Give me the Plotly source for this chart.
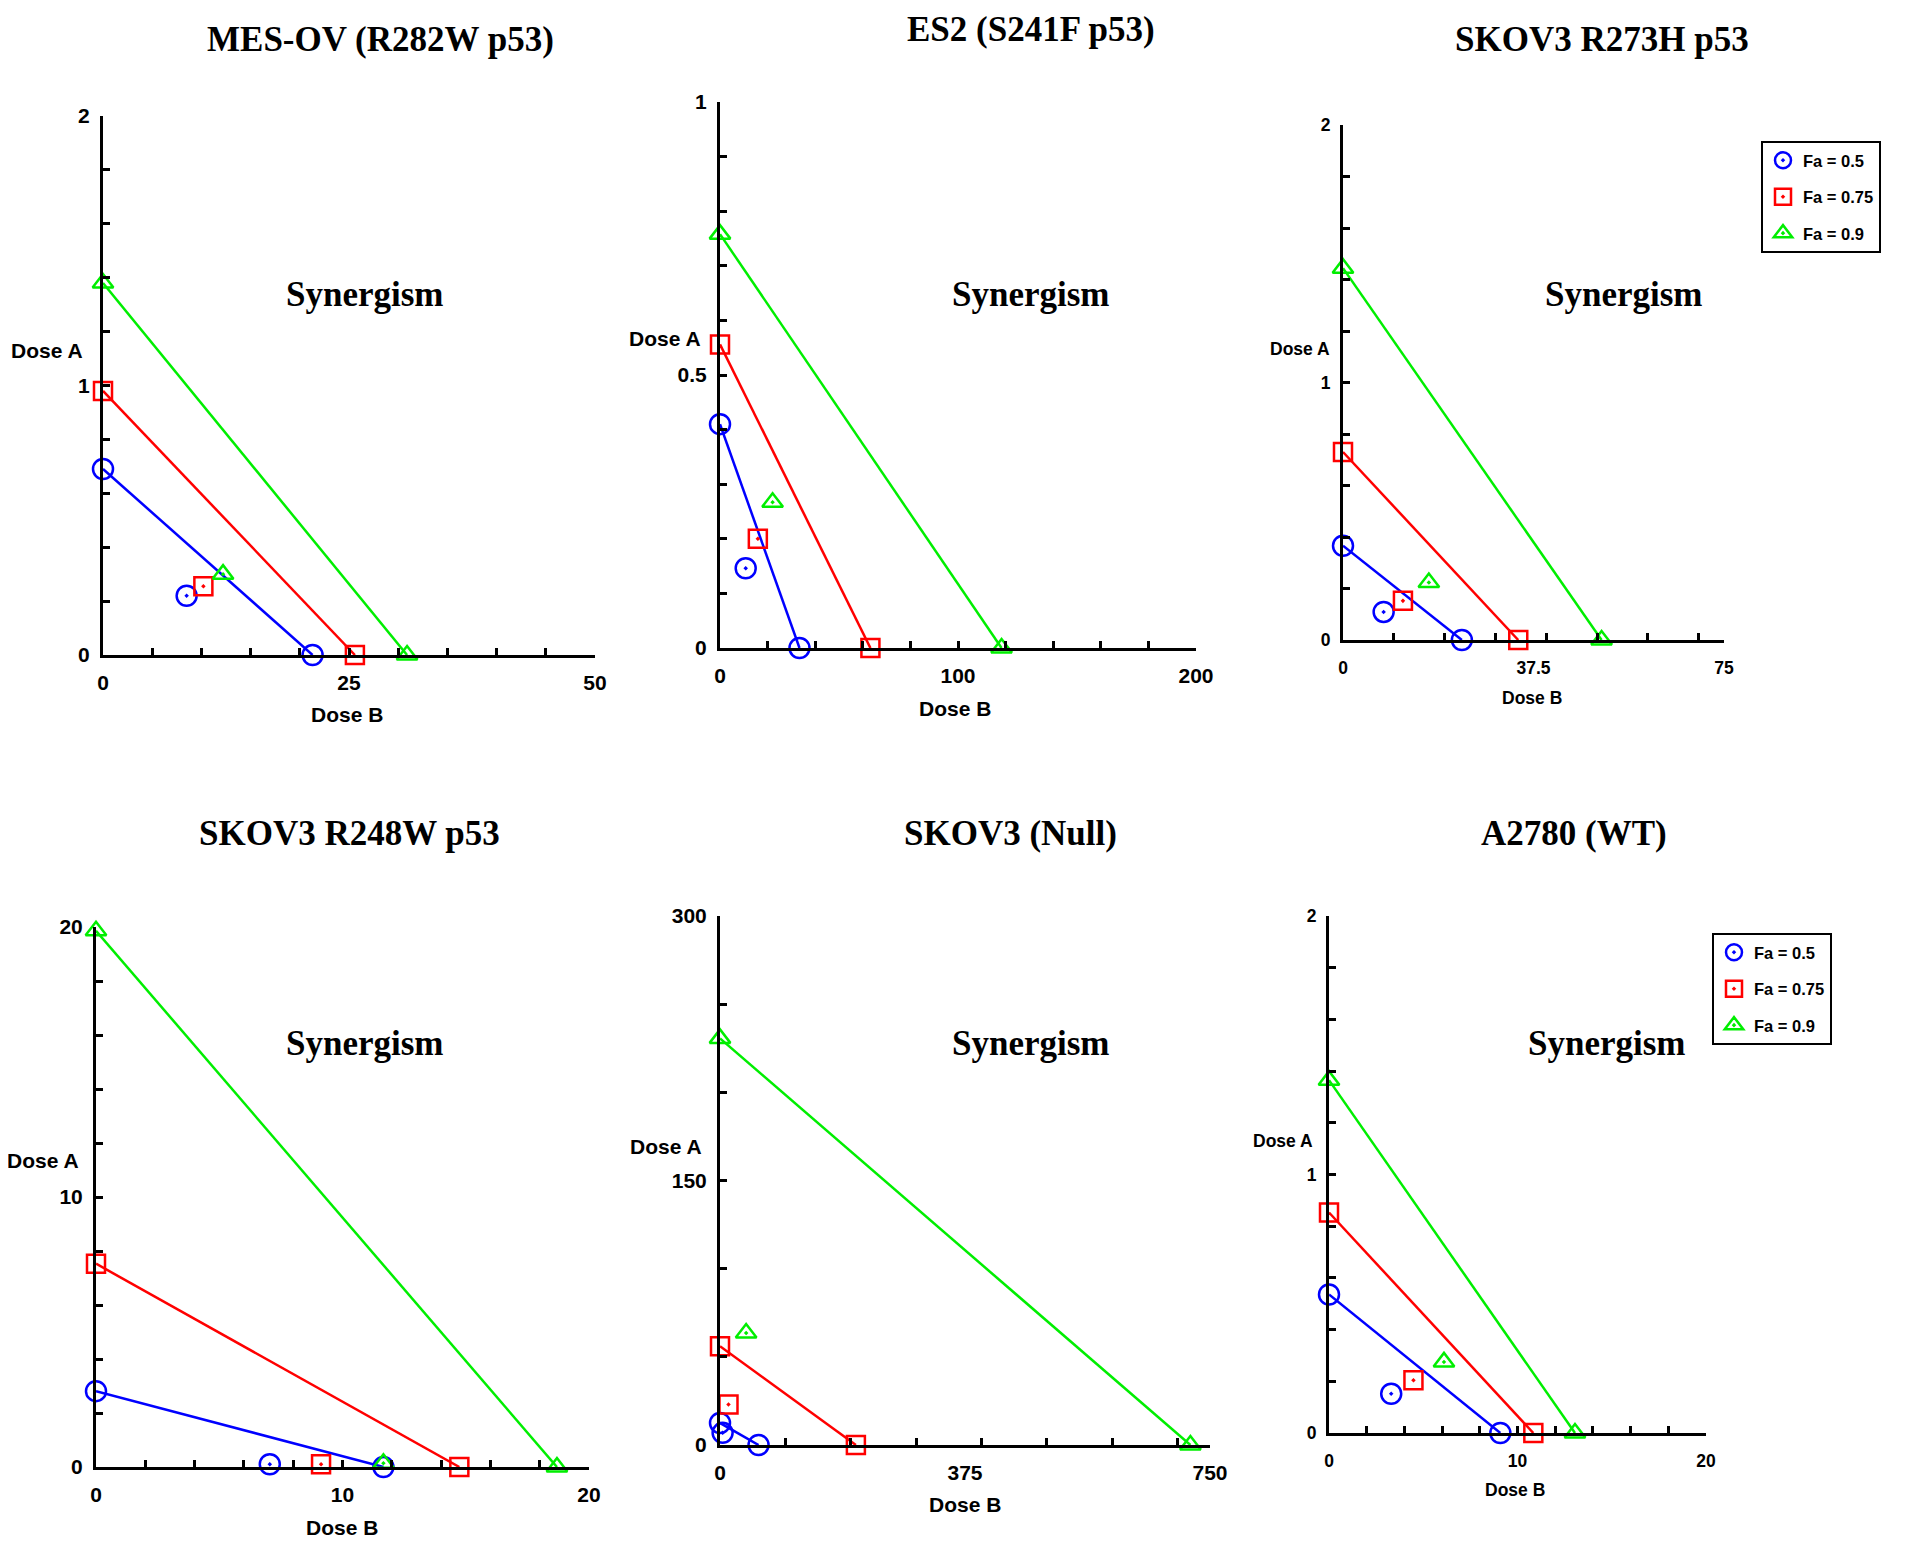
import plotly.graph_objects as go

# ---------------- data ----------------
titles = ["MES-OV (R282W p53)", "ES2 (S241F p53)", "SKOV3 R273H p53",
          "SKOV3 R248W p53", "SKOV3 (Null)", "A2780 (WT)"]
x_max = [50, 200, 75, 20, 750, 20]
y_max = [2, 1, 2, 20, 300, 2]
x_ticklabels = [[0, 25, 50], [0, 100, 200], [0, 37.5, 75], [0, 10, 20], [0, 375, 750], [0, 10, 20]]
y_ticklabels = [[0, 1, 2], [0, 0.5, 1], [0, 1, 2], [0, 10, 20], [0, 150, 300], [0, 1, 2]]
x_minor_step = [5, 20, 10, 2, 100, 2]
y_minor_step = [0.2, 0.1, 0.2, 2, 50, 0.2]

# isobole intercepts (Dose A alone, Dose B alone) for each Fa level
dose_a_fa50 = [0.69, 0.41, 0.366, 2.81, 12.5, 0.536]
dose_b_fa50 = [21.3, 33.4, 23.4, 11.66, 59, 9.09]
dose_a_fa75 = [0.98, 0.556, 0.73, 7.53, 56, 0.853]
dose_b_fa75 = [25.6, 63.2, 34.5, 14.74, 208, 10.84]
dose_a_fa90 = [1.38, 0.758, 1.444, 19.86, 230.6, 1.365]
dose_b_fa90 = [30.9, 118.3, 50.9, 18.7, 720, 13.05]

# combination points (Dose B, Dose A)
combo_b_fa50 = [8.5, 10.8, 8.0, 7.05, 4, 3.3]
combo_a_fa50 = [0.22, 0.146, 0.109, 0.1, 6.9, 0.152]
combo_b_fa75 = [10.2, 15.9, 11.8, 9.13, 13, 4.48]
combo_a_fa75 = [0.255, 0.2, 0.152, 0.1, 23, 0.204]
combo_b_fa90 = [12.2, 22.1, 16.9, 11.66, 40, 6.1]
combo_a_fa90 = [0.30, 0.267, 0.223, 0.14, 63.5, 0.275]

fa_labels = ["Fa = 0.5", "Fa = 0.75", "Fa = 0.9"]

# ---------------- layout geometry (page pixels) ----------------
W, H = 1920, 1550
OFF = 8  # the page body margin shifts the figure by this many pixels


def PX(x):
    return (x - OFF) / W


def PY(y):
    return 1 - (y - OFF) / H


# (x_left, x_right, y_top, y_bottom) of each axes box
boxes = [(103, 595, 116, 655), (720, 1196, 102, 648), (1343, 1724, 125, 640),
         (96, 589, 927, 1467), (720, 1210, 916, 1445), (1329, 1706, 916, 1433)]
title_pos = [(380, 40), (1031, 29), (1602, 40), (349, 833), (1010, 833), (1574, 833)]
syn_pos = [(365, 294), (1031, 294), (1624, 294), (365, 1043), (1031, 1043), (1607, 1043)]
doseA_pos = [(47, 350), (665, 338), (1300, 349), (43, 1160), (666, 1146), (1283, 1141)]
doseB_pos = [(347, 714), (955, 708), (1532, 698), (342, 1527), (965, 1504), (1515, 1490)]
legend_pos = [(1761, 141), (1712, 933)]
small = [False, False, True, False, False, True]

colors = ["#0000ff", "#ff0000", "#00ee00"]
symbols = ["circle", "square", "triangle-up"]
msizes = [20, 18, 18]

SANS = "Liberation Sans, Arial, sans-serif"
SERIF = "Liberation Serif, Times New Roman, serif"

fig = go.Figure()
annotations = []
layout_axes = {}

iso_a = [dose_a_fa50, dose_a_fa75, dose_a_fa90]
iso_b = [dose_b_fa50, dose_b_fa75, dose_b_fa90]
cmb_a = [combo_a_fa50, combo_a_fa75, combo_a_fa90]
cmb_b = [combo_b_fa50, combo_b_fa75, combo_b_fa90]


def frange(step, end):
    vals = []
    k = 1
    while step * k < end - 1e-9:
        vals.append(round(step * k, 6))
        k += 1
    vals.append(end)
    return vals


for p in range(6):
    xs = "" if p == 0 else str(p + 1)
    xl, xr, yt, yb = boxes[p]
    fsz = 17.5 if small[p] else 21
    tick_font = dict(family=SANS, size=fsz, color="black", weight="bold")
    common = dict(showline=True, linecolor="black", linewidth=3, showgrid=False,
                  zeroline=False, tickmode="array", ticks="inside", ticklen=0,
                  tickfont=tick_font, automargin=False, fixedrange=True)
    layout_axes["xaxis" + xs] = dict(
        domain=[PX(xl), PX(xr)], anchor="y" + xs, range=[0, x_max[p]],
        tickvals=x_ticklabels[p], ticktext=[("%g" % v) for v in x_ticklabels[p]],
        ticklabelstandoff=10 if small[p] else 7,
        minor=dict(tickmode="array", tickvals=frange(x_minor_step[p], x_max[p]),
                   ticks="inside", ticklen=7, tickwidth=2.5, tickcolor="black"),
        **common,
    )
    layout_axes["yaxis" + xs] = dict(
        domain=[PY(yb), PY(yt)], anchor="x" + xs, range=[0, y_max[p]],
        tickvals=y_ticklabels[p], ticktext=[("%g" % v) for v in y_ticklabels[p]],
        ticklabelstandoff=6,
        minor=dict(tickmode="array", tickvals=frange(y_minor_step[p], y_max[p]),
                   ticks="inside", ticklen=7, tickwidth=2.5, tickcolor="black"),
        **common,
    )
    for f in range(3):
        # isobole line with single-drug end points
        fig.add_trace(go.Scatter(
            x=[0, iso_b[f][p]], y=[iso_a[f][p], 0], mode="lines+markers",
            line=dict(color=colors[f], width=2.5),
            marker=dict(symbol=symbols[f] + "-open", size=msizes[f], color=colors[f],
                        line=dict(width=2.5, color=colors[f])),
            cliponaxis=False, showlegend=False, xaxis="x" + xs, yaxis="y" + xs,
        ))
    for f in range(3):
        leg = None
        show = False
        if p == 2:
            leg, show = "legend", True
        elif p == 5:
            leg, show = "legend2", True
        kw = dict(legend=leg) if leg else {}
        fig.add_trace(go.Scatter(
            x=[cmb_b[f][p]], y=[cmb_a[f][p]], mode="markers", name=fa_labels[f],
            marker=dict(symbol=symbols[f] + "-open-dot", size=msizes[f], color=colors[f],
                        line=dict(width=2.5, color=colors[f])),
            cliponaxis=False, showlegend=show, legendgroup="g%d_%d" % (p, f),
            xaxis="x" + xs, yaxis="y" + xs, **kw,
        ))
    # texts
    base = dict(xref="paper", yref="paper", showarrow=False, xanchor="center", yanchor="middle")
    tx, ty = title_pos[p]
    annotations.append(dict(text="<b>%s</b>" % titles[p], x=PX(tx), y=PY(ty),
                            font=dict(family=SERIF, size=35, color="black"), **base))
    sx, sy = syn_pos[p]
    annotations.append(dict(text="<b>Synergism</b>", x=PX(sx), y=PY(sy),
                            font=dict(family=SERIF, size=35, color="black"), **base))
    ax_, ay_ = doseA_pos[p]
    annotations.append(dict(text="Dose A", x=PX(ax_), y=PY(ay_),
                            font=dict(family=SANS, size=fsz, color="black", weight="bold"), **base))
    bx_, by_ = doseB_pos[p]
    annotations.append(dict(text="Dose B", x=PX(bx_), y=PY(by_),
                            font=dict(family=SANS, size=fsz, color="black", weight="bold"), **base))

legend_style = dict(bgcolor="white", bordercolor="black", borderwidth=2,
                    font=dict(family=SANS, size=16.5, color="black", weight="bold"),
                    xanchor="left", yanchor="top", tracegroupgap=12, itemwidth=30)

fig.update_layout(
    width=W, height=H, margin=dict(l=0, r=0, t=0, b=0),
    paper_bgcolor="white", plot_bgcolor="white",
    annotations=annotations,
    legend=dict(x=PX(legend_pos[0][0]), y=PY(legend_pos[0][1]), **legend_style),
    legend2=dict(x=PX(legend_pos[1][0]), y=PY(legend_pos[1][1]), **legend_style),
    **layout_axes,
)

fig.write_html("out.html")
